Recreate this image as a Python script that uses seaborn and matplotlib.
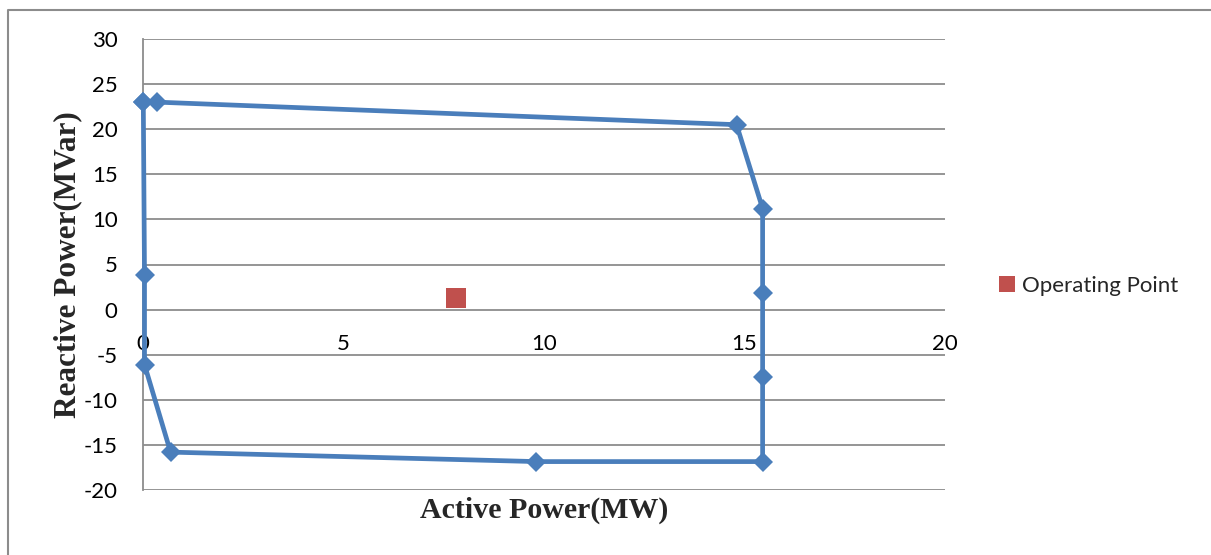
import matplotlib
matplotlib.use("Agg")
import matplotlib.pyplot as plt
import matplotlib.lines as mlines
import seaborn as sns
import pandas as pd

# Capability curve (boundary), in drawing order (closed)
active_power = [0.0, 0.35, 14.8, 15.45, 15.45, 15.45, 15.45, 9.8, 0.68, 0.03, 0.03, 0.0]
reactive_power = [23.0, 23.0, 20.5, 11.2, 1.8, -7.5, -16.85, -16.85, -15.8, -6.1, 3.8, 23.0]

# Operating point
op_active = [7.8]
op_reactive = [1.25]
op_label = "Operating Point"

x_ticks = [0, 5, 10, 15, 20]
y_ticks = [-20, -15, -10, -5, 0, 5, 10, 15, 20, 25, 30]
x_title = "Active Power(MW)"
y_title = "Reactive Power(MVar)"

sns.set_theme(style="white")
plt.rcParams["font.family"] = ["Lato", "DejaVu Sans"]

W, H = 1211, 555
fig = plt.figure(figsize=(W / 100, H / 100), dpi=100)
ax = fig.add_axes([143.3 / W, 1 - 490 / H, (945 - 143.3) / W, (490 - 39) / H])

curve = pd.DataFrame({"P": active_power, "Q": reactive_power})
sns.lineplot(data=curve, x="P", y="Q", sort=False, estimator=None, ax=ax,
             color="#4A7EBB", linewidth=3.4, marker="D", markersize=10.5,
             markeredgewidth=0, markerfacecolor="#4A7EBB", legend=False,
             clip_on=False, zorder=4)

op = pd.DataFrame({"P": op_active, "Q": op_reactive, "name": [op_label]})
sns.scatterplot(data=op, x="P", y="Q", hue="name", palette=["#C0504D"], marker="s",
                s=200, linewidth=0, ax=ax, zorder=5)

ax.set_xlim(0, 20)
ax.set_ylim(-20, 30)
ax.set_xticks(x_ticks)
ax.set_yticks(y_ticks)
ax.set_xticklabels([str(v) for v in x_ticks])
ax.set_yticklabels([str(v) for v in y_ticks])

ax.yaxis.grid(True, color="#8c8c8c", linewidth=1.3)
ax.xaxis.grid(False)
ax.set_axisbelow(True)

for s in ["top", "right"]:
    ax.spines[s].set_visible(False)
ax.spines["left"].set_color("#8c8c8c")
ax.spines["left"].set_linewidth(1.3)
ax.spines["bottom"].set_position(("data", 0))
ax.spines["bottom"].set_visible(False)

ax.tick_params(axis="both", length=0, labelsize=16, colors="black")
ax.tick_params(axis="y", pad=18.5)
ax.tick_params(axis="x", pad=17.5)

ax.set_xlabel(x_title, family="Liberation Serif", fontweight="bold", fontsize=21.5)
ax.set_ylabel(y_title, family="Liberation Serif", fontweight="bold", fontsize=22.5)
ax.xaxis.set_label_coords(0.5, (490 - 497) / 451)
ax.yaxis.set_label_coords((82 - 143.3) / 801.7, 0.5)

leg = ax.legend(loc="center left", bbox_to_anchor=(998 / W, 1 - 286 / H),
                bbox_transform=fig.transFigure, frameon=False, fontsize=16,
                borderaxespad=0, borderpad=0, handlelength=0.8, handletextpad=0.3,
                markerscale=0.85)

# outer chart border (top and left)
fig.add_artist(mlines.Line2D([7.5 / W, 7.5 / W, 1.0], [0.0, 1 - 9.5 / H, 1 - 9.5 / H],
                             transform=fig.transFigure, color="#8c8c8c", linewidth=1.5))

fig.savefig("out.png", dpi=100)
